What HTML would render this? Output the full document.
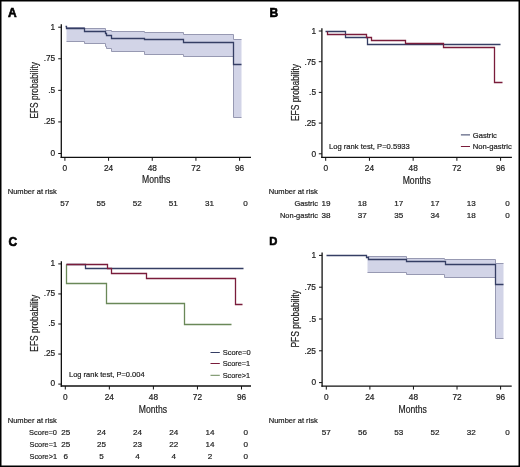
<!DOCTYPE html>
<html><head><meta charset="utf-8"><style>html,body{margin:0;padding:0;background:#fff;width:520px;height:467px;overflow:hidden}</style></head><body>
<svg width="520" height="467" viewBox="0 0 520 467" style="position:absolute;left:0;top:0;will-change:transform" font-family='"Liberation Sans", sans-serif'>
<rect x="0" y="0" width="520" height="467" fill="#fff"/>
<path d="M66.5,27.5 L84.5,27.5 L84.5,28.5 L105.5,28.5 L105.5,30.5 L111.5,30.5 L111.5,31.5 L144.5,31.5 L144.5,32.5 L183.5,32.5 L183.5,34.5 L233.5,34.5 L233.5,39.5 L241.5,39.5 L241.5,117.5 L233.5,117.5 L233.5,56.5 L183.5,56.5 L183.5,54.5 L144.5,54.5 L144.5,51.5 L111.5,51.5 L111.5,48.5 L106.5,48.5 L106.5,46.5 L105.5,46.5 L105.5,43.5 L84.5,43.5 L84.5,41.5 L66.5,41.5 Z" fill="#d2d4e7" stroke="none"/>
<path d="M66.5,27.5 L84.5,27.5 L84.5,28.5 L105.5,28.5 L105.5,30.5 L111.5,30.5 L111.5,31.5 L144.5,31.5 L144.5,32.5 L183.5,32.5 L183.5,34.5 L233.5,34.5 L233.5,39.5 L241.5,39.5" fill="none" stroke="#9799b2" stroke-width="1.0" stroke-linejoin="miter"/>
<path d="M66.5,41.5 L84.5,41.5 L84.5,43.5 L105.5,43.5 L105.5,46.5 L106.5,46.5 L106.5,48.5 L111.5,48.5 L111.5,51.5 L144.5,51.5 L144.5,54.5 L183.5,54.5 L183.5,56.5 L233.5,56.5 L233.5,117.5 L241.5,117.5" fill="none" stroke="#9799b2" stroke-width="1.0" stroke-linejoin="miter"/>
<path d="M65.5,26.5 L66.5,26.5 L66.5,28.5 L84.5,28.5 L84.5,31.5 L105.5,31.5 L105.5,33.5 L106.5,33.5 L106.5,35.5 L111.5,35.5 L111.5,38.5 L144.5,38.5 L144.5,39.5 L183.5,39.5 L183.5,42.5 L233.5,42.5 L233.5,64.5 L241.5,64.5" fill="none" stroke="#353e64" stroke-width="1.3" stroke-linejoin="miter"/>
<path d="M325.5,31.5 L345.5,31.5 L345.5,37.5 L367.5,37.5 L367.5,44.5 L500.5,44.5" fill="none" stroke="#353e64" stroke-width="1.3" stroke-linejoin="miter"/>
<path d="M327.5,31.5 L327.5,31.5 L327.5,34.5 L366.5,34.5 L366.5,37.5 L371.5,37.5 L371.5,40.5 L405.5,40.5 L405.5,43.5 L443.5,43.5 L443.5,47.5 L494.5,47.5 L494.5,82.5 L502.5,82.5" fill="none" stroke="#7a1c3b" stroke-width="1.3" stroke-linejoin="miter"/>
<path d="M66.5,264.5 L85.5,264.5 L85.5,268.5 L243.5,268.5" fill="none" stroke="#353e64" stroke-width="1.3" stroke-linejoin="miter"/>
<path d="M66.5,264.5 L66.5,264.5 L66.5,283.5 L106.5,283.5 L106.5,303.5 L184.5,303.5 L184.5,324.5 L231.5,324.5" fill="none" stroke="#6a8858" stroke-width="1.3" stroke-linejoin="miter"/>
<path d="M66.5,264.5 L107.5,264.5 L107.5,268.5 L111.5,268.5 L111.5,273.5 L146.5,273.5 L146.5,278.5 L235.5,278.5 L235.5,304.5 L242.5,304.5" fill="none" stroke="#7a1c3b" stroke-width="1.3" stroke-linejoin="miter"/>
<path d="M367.5,256.5 L406.5,256.5 L406.5,258.5 L444.5,258.5 L444.5,259.5 L495.5,259.5 L495.5,263.5 L503.5,263.5 L503.5,338.5 L495.5,338.5 L495.5,277.5 L444.5,277.5 L444.5,274.5 L406.5,274.5 L406.5,272.5 L367.5,272.5 Z" fill="#d2d4e7" stroke="none"/>
<path d="M367.5,256.5 L406.5,256.5 L406.5,258.5 L444.5,258.5 L444.5,259.5 L495.5,259.5 L495.5,263.5 L503.5,263.5" fill="none" stroke="#9799b2" stroke-width="1.0" stroke-linejoin="miter"/>
<path d="M367.5,272.5 L406.5,272.5 L406.5,274.5 L444.5,274.5 L444.5,277.5 L495.5,277.5 L495.5,338.5 L503.5,338.5" fill="none" stroke="#9799b2" stroke-width="1.0" stroke-linejoin="miter"/>
<path d="M326.5,255.5 L366.5,255.5 L366.5,257.5 L368.5,257.5 L368.5,259.5 L406.5,259.5 L406.5,261.5 L445.5,261.5 L445.5,264.5 L495.5,264.5 L495.5,284.5 L503.5,284.5" fill="none" stroke="#353e64" stroke-width="1.3" stroke-linejoin="miter"/>
<line x1="61.3" y1="24.2" x2="61.3" y2="157.95000000000002" stroke="#111" stroke-width="1.3"/>
<line x1="60.65" y1="157.3" x2="251.0" y2="157.3" stroke="#111" stroke-width="1.3"/>
<line x1="58.199999999999996" y1="153.50" x2="61.3" y2="153.50" stroke="#111" stroke-width="1"/>
<text x="55.2" y="155.80" font-size="8.3" text-anchor="end" font-weight="normal" fill="#1c1c1c" stroke="#1c1c1c" stroke-width="0.2">0</text>
<line x1="58.199999999999996" y1="121.92" x2="61.3" y2="121.92" stroke="#111" stroke-width="1"/>
<text x="55.2" y="124.22" font-size="8.3" text-anchor="end" font-weight="normal" fill="#1c1c1c" stroke="#1c1c1c" stroke-width="0.2">.25</text>
<line x1="58.199999999999996" y1="90.35" x2="61.3" y2="90.35" stroke="#111" stroke-width="1"/>
<text x="55.2" y="92.65" font-size="8.3" text-anchor="end" font-weight="normal" fill="#1c1c1c" stroke="#1c1c1c" stroke-width="0.2">.5</text>
<line x1="58.199999999999996" y1="58.78" x2="61.3" y2="58.78" stroke="#111" stroke-width="1"/>
<text x="55.2" y="61.08" font-size="8.3" text-anchor="end" font-weight="normal" fill="#1c1c1c" stroke="#1c1c1c" stroke-width="0.2">.75</text>
<line x1="58.199999999999996" y1="27.20" x2="61.3" y2="27.20" stroke="#111" stroke-width="1"/>
<text x="55.2" y="29.50" font-size="8.3" text-anchor="end" font-weight="normal" fill="#1c1c1c" stroke="#1c1c1c" stroke-width="0.2">1</text>
<line x1="64.90" y1="157.3" x2="64.90" y2="160.8" stroke="#111" stroke-width="1"/>
<text x="64.90" y="171.0" font-size="8.3" text-anchor="middle" font-weight="normal" fill="#1c1c1c" stroke="#1c1c1c" stroke-width="0.2">0</text>
<line x1="108.57" y1="157.3" x2="108.57" y2="160.8" stroke="#111" stroke-width="1"/>
<text x="108.57" y="171.0" font-size="8.3" text-anchor="middle" font-weight="normal" fill="#1c1c1c" stroke="#1c1c1c" stroke-width="0.2">24</text>
<line x1="152.25" y1="157.3" x2="152.25" y2="160.8" stroke="#111" stroke-width="1"/>
<text x="152.25" y="171.0" font-size="8.3" text-anchor="middle" font-weight="normal" fill="#1c1c1c" stroke="#1c1c1c" stroke-width="0.2">48</text>
<line x1="195.93" y1="157.3" x2="195.93" y2="160.8" stroke="#111" stroke-width="1"/>
<text x="195.93" y="171.0" font-size="8.3" text-anchor="middle" font-weight="normal" fill="#1c1c1c" stroke="#1c1c1c" stroke-width="0.2">72</text>
<line x1="239.60" y1="157.3" x2="239.60" y2="160.8" stroke="#111" stroke-width="1"/>
<text x="239.60" y="171.0" font-size="8.3" text-anchor="middle" font-weight="normal" fill="#1c1c1c" stroke="#1c1c1c" stroke-width="0.2">96</text>
<text x="156.25" y="182.8" font-size="10.1" text-anchor="middle" font-weight="normal" fill="#1c1c1c" stroke="#1c1c1c" stroke-width="0.2" textLength="28.3" lengthAdjust="spacingAndGlyphs">Months</text>
<text transform="translate(38.3,118.6) rotate(-90)" font-size="10.0" fill="#1c1c1c" stroke="#1c1c1c" stroke-width="0.2" textLength="56.5" lengthAdjust="spacingAndGlyphs">EFS probability</text>
<text x="8.0" y="17.2" font-size="12" text-anchor="start" font-weight="bold" fill="#000" stroke="#000" stroke-width="0.6">A</text>
<text x="7.7" y="193.7" font-size="7.9" text-anchor="start" font-weight="normal" fill="#1c1c1c" stroke="#1c1c1c" stroke-width="0.2" textLength="49.2" lengthAdjust="spacingAndGlyphs">Number at risk</text>
<text x="64.75" y="205.9" font-size="8.1" text-anchor="middle" font-weight="normal" fill="#1c1c1c" stroke="#1c1c1c" stroke-width="0.2">57</text>
<text x="101.0" y="205.9" font-size="8.1" text-anchor="middle" font-weight="normal" fill="#1c1c1c" stroke="#1c1c1c" stroke-width="0.2">55</text>
<text x="137.25" y="205.9" font-size="8.1" text-anchor="middle" font-weight="normal" fill="#1c1c1c" stroke="#1c1c1c" stroke-width="0.2">52</text>
<text x="173.25" y="205.9" font-size="8.1" text-anchor="middle" font-weight="normal" fill="#1c1c1c" stroke="#1c1c1c" stroke-width="0.2">51</text>
<text x="209.4" y="205.9" font-size="8.1" text-anchor="middle" font-weight="normal" fill="#1c1c1c" stroke="#1c1c1c" stroke-width="0.2">31</text>
<text x="245.5" y="205.9" font-size="8.1" text-anchor="middle" font-weight="normal" fill="#1c1c1c" stroke="#1c1c1c" stroke-width="0.2">0</text>
<line x1="321.9" y1="28.3" x2="321.9" y2="157.95000000000002" stroke="#111" stroke-width="1.3"/>
<line x1="321.25" y1="157.3" x2="511.9" y2="157.3" stroke="#111" stroke-width="1.3"/>
<line x1="318.79999999999995" y1="153.80" x2="321.9" y2="153.80" stroke="#111" stroke-width="1"/>
<text x="316.0" y="156.60" font-size="8.3" text-anchor="end" font-weight="normal" fill="#1c1c1c" stroke="#1c1c1c" stroke-width="0.2">0</text>
<line x1="318.79999999999995" y1="123.10" x2="321.9" y2="123.10" stroke="#111" stroke-width="1"/>
<text x="316.0" y="125.90" font-size="8.3" text-anchor="end" font-weight="normal" fill="#1c1c1c" stroke="#1c1c1c" stroke-width="0.2">.25</text>
<line x1="318.79999999999995" y1="92.40" x2="321.9" y2="92.40" stroke="#111" stroke-width="1"/>
<text x="316.0" y="95.20" font-size="8.3" text-anchor="end" font-weight="normal" fill="#1c1c1c" stroke="#1c1c1c" stroke-width="0.2">.5</text>
<line x1="318.79999999999995" y1="61.70" x2="321.9" y2="61.70" stroke="#111" stroke-width="1"/>
<text x="316.0" y="64.50" font-size="8.3" text-anchor="end" font-weight="normal" fill="#1c1c1c" stroke="#1c1c1c" stroke-width="0.2">.75</text>
<line x1="318.79999999999995" y1="31.00" x2="321.9" y2="31.00" stroke="#111" stroke-width="1"/>
<text x="316.0" y="33.80" font-size="8.3" text-anchor="end" font-weight="normal" fill="#1c1c1c" stroke="#1c1c1c" stroke-width="0.2">1</text>
<line x1="325.70" y1="157.3" x2="325.70" y2="160.8" stroke="#111" stroke-width="1"/>
<text x="325.70" y="171.0" font-size="8.3" text-anchor="middle" font-weight="normal" fill="#1c1c1c" stroke="#1c1c1c" stroke-width="0.2">0</text>
<line x1="369.43" y1="157.3" x2="369.43" y2="160.8" stroke="#111" stroke-width="1"/>
<text x="369.43" y="171.0" font-size="8.3" text-anchor="middle" font-weight="normal" fill="#1c1c1c" stroke="#1c1c1c" stroke-width="0.2">24</text>
<line x1="413.15" y1="157.3" x2="413.15" y2="160.8" stroke="#111" stroke-width="1"/>
<text x="413.15" y="171.0" font-size="8.3" text-anchor="middle" font-weight="normal" fill="#1c1c1c" stroke="#1c1c1c" stroke-width="0.2">48</text>
<line x1="456.88" y1="157.3" x2="456.88" y2="160.8" stroke="#111" stroke-width="1"/>
<text x="456.88" y="171.0" font-size="8.3" text-anchor="middle" font-weight="normal" fill="#1c1c1c" stroke="#1c1c1c" stroke-width="0.2">72</text>
<line x1="500.60" y1="157.3" x2="500.60" y2="160.8" stroke="#111" stroke-width="1"/>
<text x="500.60" y="171.0" font-size="8.3" text-anchor="middle" font-weight="normal" fill="#1c1c1c" stroke="#1c1c1c" stroke-width="0.2">96</text>
<text x="416.8" y="184.2" font-size="10.1" text-anchor="middle" font-weight="normal" fill="#1c1c1c" stroke="#1c1c1c" stroke-width="0.2" textLength="28.3" lengthAdjust="spacingAndGlyphs">Months</text>
<text transform="translate(299.2,121.0) rotate(-90)" font-size="10.0" fill="#1c1c1c" stroke="#1c1c1c" stroke-width="0.2" textLength="57.0" lengthAdjust="spacingAndGlyphs">EFS probability</text>
<text x="269.6" y="17.1" font-size="12" text-anchor="start" font-weight="bold" fill="#000" stroke="#000" stroke-width="0.6">B</text>
<text x="268.7" y="194.2" font-size="7.9" text-anchor="start" font-weight="normal" fill="#1c1c1c" stroke="#1c1c1c" stroke-width="0.2" textLength="49.2" lengthAdjust="spacingAndGlyphs">Number at risk</text>
<text x="318.0" y="206.0" font-size="7.9" text-anchor="end" font-weight="normal" fill="#1c1c1c" stroke="#1c1c1c" stroke-width="0.2" textLength="23.6" lengthAdjust="spacingAndGlyphs">Gastric</text>
<text x="325.9" y="206.0" font-size="8.1" text-anchor="middle" font-weight="normal" fill="#1c1c1c" stroke="#1c1c1c" stroke-width="0.2">19</text>
<text x="362.2" y="206.0" font-size="8.1" text-anchor="middle" font-weight="normal" fill="#1c1c1c" stroke="#1c1c1c" stroke-width="0.2">18</text>
<text x="398.75" y="206.0" font-size="8.1" text-anchor="middle" font-weight="normal" fill="#1c1c1c" stroke="#1c1c1c" stroke-width="0.2">17</text>
<text x="435.0" y="206.0" font-size="8.1" text-anchor="middle" font-weight="normal" fill="#1c1c1c" stroke="#1c1c1c" stroke-width="0.2">17</text>
<text x="471.25" y="206.0" font-size="8.1" text-anchor="middle" font-weight="normal" fill="#1c1c1c" stroke="#1c1c1c" stroke-width="0.2">13</text>
<text x="507.5" y="206.0" font-size="8.1" text-anchor="middle" font-weight="normal" fill="#1c1c1c" stroke="#1c1c1c" stroke-width="0.2">0</text>
<text x="318.0" y="217.7" font-size="7.9" text-anchor="end" font-weight="normal" fill="#1c1c1c" stroke="#1c1c1c" stroke-width="0.2" textLength="38.0" lengthAdjust="spacingAndGlyphs">Non-gastric</text>
<text x="325.9" y="217.7" font-size="8.1" text-anchor="middle" font-weight="normal" fill="#1c1c1c" stroke="#1c1c1c" stroke-width="0.2">38</text>
<text x="362.2" y="217.7" font-size="8.1" text-anchor="middle" font-weight="normal" fill="#1c1c1c" stroke="#1c1c1c" stroke-width="0.2">37</text>
<text x="398.75" y="217.7" font-size="8.1" text-anchor="middle" font-weight="normal" fill="#1c1c1c" stroke="#1c1c1c" stroke-width="0.2">35</text>
<text x="435.0" y="217.7" font-size="8.1" text-anchor="middle" font-weight="normal" fill="#1c1c1c" stroke="#1c1c1c" stroke-width="0.2">34</text>
<text x="471.25" y="217.7" font-size="8.1" text-anchor="middle" font-weight="normal" fill="#1c1c1c" stroke="#1c1c1c" stroke-width="0.2">18</text>
<text x="507.5" y="217.7" font-size="8.1" text-anchor="middle" font-weight="normal" fill="#1c1c1c" stroke="#1c1c1c" stroke-width="0.2">0</text>
<line x1="61.35" y1="261.2" x2="61.35" y2="386.65" stroke="#111" stroke-width="1.3"/>
<line x1="60.7" y1="386.0" x2="251.0" y2="386.0" stroke="#111" stroke-width="1.3"/>
<line x1="58.25" y1="384.10" x2="61.35" y2="384.10" stroke="#111" stroke-width="1"/>
<text x="55.2" y="386.40" font-size="8.3" text-anchor="end" font-weight="normal" fill="#1c1c1c" stroke="#1c1c1c" stroke-width="0.2">0</text>
<line x1="58.25" y1="354.05" x2="61.35" y2="354.05" stroke="#111" stroke-width="1"/>
<text x="55.2" y="356.35" font-size="8.3" text-anchor="end" font-weight="normal" fill="#1c1c1c" stroke="#1c1c1c" stroke-width="0.2">.25</text>
<line x1="58.25" y1="324.00" x2="61.35" y2="324.00" stroke="#111" stroke-width="1"/>
<text x="55.2" y="326.30" font-size="8.3" text-anchor="end" font-weight="normal" fill="#1c1c1c" stroke="#1c1c1c" stroke-width="0.2">.5</text>
<line x1="58.25" y1="293.95" x2="61.35" y2="293.95" stroke="#111" stroke-width="1"/>
<text x="55.2" y="296.25" font-size="8.3" text-anchor="end" font-weight="normal" fill="#1c1c1c" stroke="#1c1c1c" stroke-width="0.2">.75</text>
<line x1="58.25" y1="263.90" x2="61.35" y2="263.90" stroke="#111" stroke-width="1"/>
<text x="55.2" y="266.20" font-size="8.3" text-anchor="end" font-weight="normal" fill="#1c1c1c" stroke="#1c1c1c" stroke-width="0.2">1</text>
<line x1="65.30" y1="386.0" x2="65.30" y2="389.5" stroke="#111" stroke-width="1"/>
<text x="65.30" y="399.6" font-size="8.3" text-anchor="middle" font-weight="normal" fill="#1c1c1c" stroke="#1c1c1c" stroke-width="0.2">0</text>
<line x1="109.35" y1="386.0" x2="109.35" y2="389.5" stroke="#111" stroke-width="1"/>
<text x="109.35" y="399.6" font-size="8.3" text-anchor="middle" font-weight="normal" fill="#1c1c1c" stroke="#1c1c1c" stroke-width="0.2">24</text>
<line x1="153.40" y1="386.0" x2="153.40" y2="389.5" stroke="#111" stroke-width="1"/>
<text x="153.40" y="399.6" font-size="8.3" text-anchor="middle" font-weight="normal" fill="#1c1c1c" stroke="#1c1c1c" stroke-width="0.2">48</text>
<line x1="197.45" y1="386.0" x2="197.45" y2="389.5" stroke="#111" stroke-width="1"/>
<text x="197.45" y="399.6" font-size="8.3" text-anchor="middle" font-weight="normal" fill="#1c1c1c" stroke="#1c1c1c" stroke-width="0.2">72</text>
<line x1="241.50" y1="386.0" x2="241.50" y2="389.5" stroke="#111" stroke-width="1"/>
<text x="241.50" y="399.6" font-size="8.3" text-anchor="middle" font-weight="normal" fill="#1c1c1c" stroke="#1c1c1c" stroke-width="0.2">96</text>
<text x="152.9" y="412.5" font-size="10.1" text-anchor="middle" font-weight="normal" fill="#1c1c1c" stroke="#1c1c1c" stroke-width="0.2" textLength="28.3" lengthAdjust="spacingAndGlyphs">Months</text>
<text transform="translate(38.3,351.7) rotate(-90)" font-size="10.0" fill="#1c1c1c" stroke="#1c1c1c" stroke-width="0.2" textLength="56.9" lengthAdjust="spacingAndGlyphs">EFS probability</text>
<text x="8.4" y="245.8" font-size="12" text-anchor="start" font-weight="bold" fill="#000" stroke="#000" stroke-width="0.6">C</text>
<text x="7.7" y="423.3" font-size="7.9" text-anchor="start" font-weight="normal" fill="#1c1c1c" stroke="#1c1c1c" stroke-width="0.2" textLength="49.2" lengthAdjust="spacingAndGlyphs">Number at risk</text>
<text x="57.0" y="434.9" font-size="7.9" text-anchor="end" font-weight="normal" fill="#1c1c1c" stroke="#1c1c1c" stroke-width="0.2" textLength="27.9" lengthAdjust="spacingAndGlyphs">Score=0</text>
<text x="65.75" y="434.9" font-size="8.1" text-anchor="middle" font-weight="normal" fill="#1c1c1c" stroke="#1c1c1c" stroke-width="0.2">25</text>
<text x="101.5" y="434.9" font-size="8.1" text-anchor="middle" font-weight="normal" fill="#1c1c1c" stroke="#1c1c1c" stroke-width="0.2">24</text>
<text x="137.5" y="434.9" font-size="8.1" text-anchor="middle" font-weight="normal" fill="#1c1c1c" stroke="#1c1c1c" stroke-width="0.2">24</text>
<text x="173.75" y="434.9" font-size="8.1" text-anchor="middle" font-weight="normal" fill="#1c1c1c" stroke="#1c1c1c" stroke-width="0.2">24</text>
<text x="210.0" y="434.9" font-size="8.1" text-anchor="middle" font-weight="normal" fill="#1c1c1c" stroke="#1c1c1c" stroke-width="0.2">14</text>
<text x="245.75" y="434.9" font-size="8.1" text-anchor="middle" font-weight="normal" fill="#1c1c1c" stroke="#1c1c1c" stroke-width="0.2">0</text>
<text x="57.0" y="446.8" font-size="7.9" text-anchor="end" font-weight="normal" fill="#1c1c1c" stroke="#1c1c1c" stroke-width="0.2" textLength="27.4" lengthAdjust="spacingAndGlyphs">Score=1</text>
<text x="65.75" y="446.8" font-size="8.1" text-anchor="middle" font-weight="normal" fill="#1c1c1c" stroke="#1c1c1c" stroke-width="0.2">25</text>
<text x="101.5" y="446.8" font-size="8.1" text-anchor="middle" font-weight="normal" fill="#1c1c1c" stroke="#1c1c1c" stroke-width="0.2">25</text>
<text x="137.5" y="446.8" font-size="8.1" text-anchor="middle" font-weight="normal" fill="#1c1c1c" stroke="#1c1c1c" stroke-width="0.2">23</text>
<text x="173.75" y="446.8" font-size="8.1" text-anchor="middle" font-weight="normal" fill="#1c1c1c" stroke="#1c1c1c" stroke-width="0.2">22</text>
<text x="210.0" y="446.8" font-size="8.1" text-anchor="middle" font-weight="normal" fill="#1c1c1c" stroke="#1c1c1c" stroke-width="0.2">14</text>
<text x="245.75" y="446.8" font-size="8.1" text-anchor="middle" font-weight="normal" fill="#1c1c1c" stroke="#1c1c1c" stroke-width="0.2">0</text>
<text x="57.0" y="458.8" font-size="7.9" text-anchor="end" font-weight="normal" fill="#1c1c1c" stroke="#1c1c1c" stroke-width="0.2" textLength="27.4" lengthAdjust="spacingAndGlyphs">Score>1</text>
<text x="65.75" y="458.8" font-size="8.1" text-anchor="middle" font-weight="normal" fill="#1c1c1c" stroke="#1c1c1c" stroke-width="0.2">6</text>
<text x="101.5" y="458.8" font-size="8.1" text-anchor="middle" font-weight="normal" fill="#1c1c1c" stroke="#1c1c1c" stroke-width="0.2">5</text>
<text x="137.5" y="458.8" font-size="8.1" text-anchor="middle" font-weight="normal" fill="#1c1c1c" stroke="#1c1c1c" stroke-width="0.2">4</text>
<text x="173.75" y="458.8" font-size="8.1" text-anchor="middle" font-weight="normal" fill="#1c1c1c" stroke="#1c1c1c" stroke-width="0.2">4</text>
<text x="210.0" y="458.8" font-size="8.1" text-anchor="middle" font-weight="normal" fill="#1c1c1c" stroke="#1c1c1c" stroke-width="0.2">2</text>
<text x="245.75" y="458.8" font-size="8.1" text-anchor="middle" font-weight="normal" fill="#1c1c1c" stroke="#1c1c1c" stroke-width="0.2">0</text>
<line x1="322.1" y1="252.5" x2="322.1" y2="386.75" stroke="#111" stroke-width="1.3"/>
<line x1="321.45000000000005" y1="386.1" x2="511.7" y2="386.1" stroke="#111" stroke-width="1.3"/>
<line x1="319.0" y1="382.60" x2="322.1" y2="382.60" stroke="#111" stroke-width="1"/>
<text x="316.0" y="385.30" font-size="8.3" text-anchor="end" font-weight="normal" fill="#1c1c1c" stroke="#1c1c1c" stroke-width="0.2">0</text>
<line x1="319.0" y1="350.80" x2="322.1" y2="350.80" stroke="#111" stroke-width="1"/>
<text x="316.0" y="353.50" font-size="8.3" text-anchor="end" font-weight="normal" fill="#1c1c1c" stroke="#1c1c1c" stroke-width="0.2">.25</text>
<line x1="319.0" y1="319.00" x2="322.1" y2="319.00" stroke="#111" stroke-width="1"/>
<text x="316.0" y="321.70" font-size="8.3" text-anchor="end" font-weight="normal" fill="#1c1c1c" stroke="#1c1c1c" stroke-width="0.2">.5</text>
<line x1="319.0" y1="287.20" x2="322.1" y2="287.20" stroke="#111" stroke-width="1"/>
<text x="316.0" y="289.90" font-size="8.3" text-anchor="end" font-weight="normal" fill="#1c1c1c" stroke="#1c1c1c" stroke-width="0.2">.75</text>
<line x1="319.0" y1="255.40" x2="322.1" y2="255.40" stroke="#111" stroke-width="1"/>
<text x="316.0" y="258.10" font-size="8.3" text-anchor="end" font-weight="normal" fill="#1c1c1c" stroke="#1c1c1c" stroke-width="0.2">1</text>
<line x1="326.30" y1="386.1" x2="326.30" y2="389.6" stroke="#111" stroke-width="1"/>
<text x="326.30" y="399.6" font-size="8.3" text-anchor="middle" font-weight="normal" fill="#1c1c1c" stroke="#1c1c1c" stroke-width="0.2">0</text>
<line x1="369.88" y1="386.1" x2="369.88" y2="389.6" stroke="#111" stroke-width="1"/>
<text x="369.88" y="399.6" font-size="8.3" text-anchor="middle" font-weight="normal" fill="#1c1c1c" stroke="#1c1c1c" stroke-width="0.2">24</text>
<line x1="413.45" y1="386.1" x2="413.45" y2="389.6" stroke="#111" stroke-width="1"/>
<text x="413.45" y="399.6" font-size="8.3" text-anchor="middle" font-weight="normal" fill="#1c1c1c" stroke="#1c1c1c" stroke-width="0.2">48</text>
<line x1="457.02" y1="386.1" x2="457.02" y2="389.6" stroke="#111" stroke-width="1"/>
<text x="457.02" y="399.6" font-size="8.3" text-anchor="middle" font-weight="normal" fill="#1c1c1c" stroke="#1c1c1c" stroke-width="0.2">72</text>
<line x1="500.60" y1="386.1" x2="500.60" y2="389.6" stroke="#111" stroke-width="1"/>
<text x="500.60" y="399.6" font-size="8.3" text-anchor="middle" font-weight="normal" fill="#1c1c1c" stroke="#1c1c1c" stroke-width="0.2">96</text>
<text x="412.7" y="412.5" font-size="10.1" text-anchor="middle" font-weight="normal" fill="#1c1c1c" stroke="#1c1c1c" stroke-width="0.2" textLength="28.3" lengthAdjust="spacingAndGlyphs">Months</text>
<text transform="translate(299.2,347.6) rotate(-90)" font-size="10.0" fill="#1c1c1c" stroke="#1c1c1c" stroke-width="0.2" textLength="57.5" lengthAdjust="spacingAndGlyphs">PFS probability</text>
<text x="269.3" y="245.0" font-size="11.2" text-anchor="start" font-weight="bold" fill="#000" stroke="#000" stroke-width="0.6">D</text>
<text x="268.7" y="423.3" font-size="7.9" text-anchor="start" font-weight="normal" fill="#1c1c1c" stroke="#1c1c1c" stroke-width="0.2" textLength="49.2" lengthAdjust="spacingAndGlyphs">Number at risk</text>
<text x="326.25" y="434.5" font-size="8.1" text-anchor="middle" font-weight="normal" fill="#1c1c1c" stroke="#1c1c1c" stroke-width="0.2">57</text>
<text x="362.5" y="434.5" font-size="8.1" text-anchor="middle" font-weight="normal" fill="#1c1c1c" stroke="#1c1c1c" stroke-width="0.2">56</text>
<text x="398.75" y="434.5" font-size="8.1" text-anchor="middle" font-weight="normal" fill="#1c1c1c" stroke="#1c1c1c" stroke-width="0.2">53</text>
<text x="435.0" y="434.5" font-size="8.1" text-anchor="middle" font-weight="normal" fill="#1c1c1c" stroke="#1c1c1c" stroke-width="0.2">52</text>
<text x="471.25" y="434.5" font-size="8.1" text-anchor="middle" font-weight="normal" fill="#1c1c1c" stroke="#1c1c1c" stroke-width="0.2">32</text>
<text x="507.5" y="434.5" font-size="8.1" text-anchor="middle" font-weight="normal" fill="#1c1c1c" stroke="#1c1c1c" stroke-width="0.2">0</text>
<text x="329.0" y="148.7" font-size="7.9" text-anchor="start" font-weight="normal" fill="#1c1c1c" stroke="#1c1c1c" stroke-width="0.2" textLength="80.8" lengthAdjust="spacingAndGlyphs">Log rank test, P=0.5933</text>
<line x1="460.9" y1="134.9" x2="470.0" y2="134.9" stroke="#353e64" stroke-width="1"/>
<line x1="460.9" y1="146.5" x2="470.0" y2="146.5" stroke="#7a1c3b" stroke-width="1"/>
<text x="472.8" y="137.6" font-size="7.9" text-anchor="start" font-weight="normal" fill="#1c1c1c" stroke="#1c1c1c" stroke-width="0.2" textLength="24.1" lengthAdjust="spacingAndGlyphs">Gastric</text>
<text x="472.8" y="148.7" font-size="7.9" text-anchor="start" font-weight="normal" fill="#1c1c1c" stroke="#1c1c1c" stroke-width="0.2" textLength="39.0" lengthAdjust="spacingAndGlyphs">Non-gastric</text>
<text x="69.0" y="377.3" font-size="7.9" text-anchor="start" font-weight="normal" fill="#1c1c1c" stroke="#1c1c1c" stroke-width="0.2" textLength="75.6" lengthAdjust="spacingAndGlyphs">Log rank test, P=0.004</text>
<line x1="210.5" y1="352.5" x2="219.8" y2="352.5" stroke="#353e64" stroke-width="1"/>
<line x1="210.5" y1="363.5" x2="219.8" y2="363.5" stroke="#7a1c3b" stroke-width="1"/>
<line x1="210.5" y1="375.3" x2="219.8" y2="375.3" stroke="#6a8858" stroke-width="1"/>
<text x="222.7" y="354.9" font-size="7.9" text-anchor="start" font-weight="normal" fill="#1c1c1c" stroke="#1c1c1c" stroke-width="0.2" textLength="28.1" lengthAdjust="spacingAndGlyphs">Score=0</text>
<text x="222.7" y="366.3" font-size="7.9" text-anchor="start" font-weight="normal" fill="#1c1c1c" stroke="#1c1c1c" stroke-width="0.2" textLength="27.5" lengthAdjust="spacingAndGlyphs">Score=1</text>
<text x="222.7" y="377.8" font-size="7.9" text-anchor="start" font-weight="normal" fill="#1c1c1c" stroke="#1c1c1c" stroke-width="0.2" textLength="27.5" lengthAdjust="spacingAndGlyphs">Score&gt;1</text>
<rect x="0.75" y="0.75" width="518.5" height="465.5" fill="none" stroke="#000" stroke-width="1.5"/>
</svg>
</body></html>
